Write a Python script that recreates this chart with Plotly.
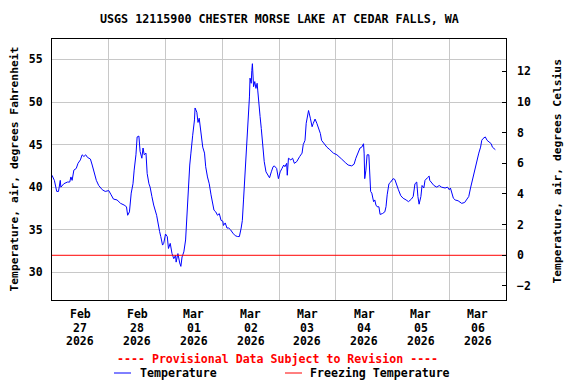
import plotly.graph_objects as go
import pandas as pd

# ---- data ----
start = pd.Timestamp("2026-02-27 00:00")
hours = [0.0, 1.0, 2.0, 2.75, 3.5, 3.75, 5.0, 6.5, 7.5, 8.0, 8.5, 9.25, 10.25, 11.0, 12.0, 12.75,
         13.5, 14.25, 15.0, 16.25, 17.0, 17.75, 18.75, 19.75, 21.25, 22.5, 24.0, 25.0, 26.0, 27.5,
         29.0, 30.5, 31.5, 32.0, 32.75, 33.5, 34.25, 34.75, 35.5, 36.0, 36.75, 37.25, 38.0, 38.5,
         39.0, 39.75, 40.25, 41.0, 41.5, 42.25, 43.0, 44.25, 44.75, 45.5, 46.0, 46.75, 47.25, 48.0,
         48.75, 49.25, 50.0, 50.75, 51.5, 52.25, 52.5, 53.25, 54.0, 54.5, 55.0, 55.75, 56.5, 56.75,
         57.0, 57.5, 57.75, 58.25, 58.75, 59.25, 59.5, 60.25, 60.5, 61.25, 61.75, 62.25, 62.75, 63.0,
         63.75, 64.5, 65.0, 65.75, 66.5, 67.25, 68.0, 68.5, 69.25, 70.0, 70.75, 71.5, 72.25, 72.5,
         73.25, 74.0, 74.75, 75.5, 76.5, 77.5, 78.5, 79.25, 80.0, 80.5, 81.0, 81.5, 81.75, 82.5,
         83.0, 83.5, 83.75, 84.25, 84.5, 84.75, 85.25, 85.75, 86.25, 86.75, 87.0, 87.5, 88.0, 88.5,
         89.0, 89.5, 89.75, 90.5, 91.25, 92.0, 92.75, 93.5, 94.0, 95.0, 95.75, 96.5, 97.25, 98.0,
         98.5, 99.25, 99.5, 100.0, 101.0, 101.75, 102.5, 103.5, 104.75,
         105.75, 106.25, 107.0, 107.5, 108.0, 108.5, 109.25, 110.0, 110.5, 111.25, 112.0, 112.75,
         113.5, 114.0, 115.0, 116.25, 117.5, 119.0, 120.5, 121.5, 122.5, 124.0, 125.25, 126.75,
         127.75, 128.5, 129.5, 130.25, 131.0, 131.75, 132.0, 132.25, 132.75, 133.25, 134.0, 134.25,
         134.75, 135.25, 136.0, 136.5, 137.0, 137.5, 138.25, 138.75, 139.75, 140.75, 141.25, 141.75,
         142.5, 143.25, 144.25, 145.0, 145.75, 146.5, 147.5, 148.5, 149.75, 150.75, 152.0, 152.75,
         153.5, 154.25, 154.75, 155.25, 156.0, 156.5, 157.25, 157.75, 158.75, 159.5, 159.75, 160.5,
         161.5, 162.75, 163.75, 164.75, 166.25, 167.25, 168.0, 168.5, 169.25, 169.75, 170.5, 171.75,
         173.25, 174.5, 175.25, 176.25, 177.0, 177.75, 178.75, 179.5, 180.5, 181.25, 181.75, 182.25,
         183.25, 184.0, 185.0, 185.75, 186.25, 186.75, 187.5]
temp_f = [41.4, 40.8, 39.5, 39.5, 40.8, 40.0, 40.4, 40.6, 40.6, 41.2, 40.8, 42.0, 42.2, 42.8, 43.2, 43.8,
          43.6, 43.8, 43.5, 43.3, 42.6, 41.8, 40.8, 40.2, 39.7, 39.5, 39.6, 39.1, 38.6, 38.5,
          38.1, 37.9, 37.7, 36.7, 37.1, 39.3, 40.4, 42.0, 43.8, 45.9, 46.0, 44.2, 43.4, 44.6,
          43.8, 44.0, 41.6, 40.4, 40.0, 38.9, 37.9, 36.7, 35.7, 34.8, 34.2, 33.2, 33.4, 34.5,
          34.2, 32.8, 33.4, 32.2, 31.6, 32.0, 31.2, 32.2, 31.1, 30.7, 31.8, 32.4, 33.8, 35.0,
          36.9, 38.9, 41.2, 42.6, 44.0, 45.9, 46.1, 47.9, 49.3, 48.8, 47.6, 48.1, 46.9, 45.9,
          44.7, 44.0, 42.4, 41.2, 40.4, 39.1, 37.9, 37.3, 37.1, 36.7, 36.9, 36.1, 36.0, 35.5,
          35.8, 35.2, 35.2, 35.0, 34.6, 34.3, 34.2, 34.2, 35.2, 36.1, 38.5, 40.8, 42.4, 44.7,
          48.3, 50.6, 52.8, 52.2, 53.7, 54.5, 51.8, 52.4, 51.6, 52.2, 51.4, 50.2, 48.3, 46.9,
          45.5, 44.4, 43.0, 41.8, 41.4, 41.1, 41.8, 42.4, 42.5, 42.2, 41.0, 41.8, 42.2, 42.6,
          42.4, 42.8, 41.4, 43.4, 43.2, 43.4, 42.8, 43.0, 43.6,
          44.0, 45.0, 45.5, 47.5, 48.5, 49.0, 48.1, 47.1, 47.5, 48.0, 47.5, 46.9,
          46.3, 45.5, 45.1, 44.7, 44.4, 44.0, 43.8, 43.5, 43.3, 42.9, 42.6, 42.5,
          42.7, 43.4, 44.0, 44.6, 44.7, 45.1, 44.0, 41.0, 42.0, 43.8, 43.8, 41.6,
          39.5, 39.3, 38.3, 38.5, 37.9, 37.7, 37.7, 36.8, 36.9, 37.1, 37.7, 39.1,
          40.4, 40.6, 41.0, 40.9, 40.4, 39.7, 39.0, 38.7, 38.5, 38.3, 38.6, 38.9,
          40.4, 40.6, 38.9, 38.0, 38.9, 40.2, 39.9, 40.8, 41.1, 41.3, 40.8, 40.5,
          40.2, 40.0, 40.2, 40.0, 39.9, 40.0, 39.7, 39.9, 39.3, 38.7, 38.5, 38.4,
          38.1, 38.2, 38.5, 38.9, 39.9, 40.8, 42.2, 42.8, 44.0, 44.7, 45.5, 45.7,
          45.9, 45.5, 45.3, 45.1, 44.7, 44.6, 44.4]

day_starts = ["2026-02-27", "2026-02-28", "2026-03-01", "2026-03-02", "2026-03-03",
              "2026-03-04", "2026-03-05", "2026-03-06", "2026-03-07"]
label_month = ["Feb", "Feb", "Mar", "Mar", "Mar", "Mar", "Mar", "Mar"]
label_day = ["27", "28", "01", "02", "03", "04", "05", "06"]
label_year = ["2026"] * 8
f_ticks = [30, 35, 40, 45, 50, 55]
c_ticks = [-2, 0, 2, 4, 6, 8, 10, 12]
freezing_c = 0
f_range = [26.75, 57.4]

# ---- figure ----
FONT = "DejaVu Sans Mono"
times = [start + pd.Timedelta(hours=h) for h in hours]
x0, x1 = pd.Timestamp(day_starts[0]), pd.Timestamp(day_starts[-1])
c_range = [(f_range[0] - 32) / 1.8, (f_range[1] - 32) / 1.8]

L, R, T, B = 52, 506, 39, 300
W, H = 576, 384
def px(x):
    return (x - L) / (R - L)
def py(y):
    return (B - y) / (B - T)

fig = go.Figure()
fig.add_trace(go.Scatter(x=times, y=temp_f, mode="lines", name="Temperature",
                         line=dict(color="#0000ff", width=1), yaxis="y", showlegend=False))
fig.add_trace(go.Scatter(x=[x0, x1], y=[freezing_c, freezing_c], mode="lines",
                         name="Freezing Temperature", line=dict(color="#ff0000", width=1),
                         yaxis="y2", showlegend=False))

ann = []
noons = [pd.Timestamp(d) + pd.Timedelta(hours=12) for d in day_starts[:-1]]
for i, t in enumerate(noons):
    for row, txt in zip((314, 327.5, 341), (label_month[i], label_day[i], label_year[i])):
        ann.append(dict(x=t, xref="x", y=py(row), yref="paper", text=txt, showarrow=False,
                        xanchor="center", yanchor="middle",
                        font=dict(family=FONT, size=11.5, color="black", weight="bold")))

ann.append(dict(x=px(279), xref="paper", y=py(19), yref="paper",
                text="USGS 12115900 CHESTER MORSE LAKE AT CEDAR FALLS, WA", showarrow=False,
                xanchor="center", yanchor="middle",
                font=dict(family=FONT, size=11.7, color="black", weight="bold")))
ann.append(dict(x=px(14), xref="paper", y=py(169.5), yref="paper",
                text="Temperature, air, degrees Fahrenheit", textangle=-90, showarrow=False,
                xanchor="center", yanchor="middle",
                font=dict(family=FONT, size=11.3, color="black", weight="bold")))
ann.append(dict(x=px(556.5), xref="paper", y=py(172), yref="paper",
                text="Temperature, air, degrees Celsius", textangle=-90, showarrow=False,
                xanchor="center", yanchor="middle",
                font=dict(family=FONT, size=11.3, color="black", weight="bold")))
ann.append(dict(x=px(277.5), xref="paper", y=py(358.5), yref="paper",
                text="---- Provisional Data Subject to Revision ----", showarrow=False,
                xanchor="center", yanchor="middle",
                font=dict(family=FONT, size=11.6, color="#ff0000", weight="bold")))
ann.append(dict(x=px(138), xref="paper", y=py(373), yref="paper", text="Temperature",
                showarrow=False, xanchor="left", yanchor="middle",
                font=dict(family=FONT, size=11.6, color="black", weight="bold")))
ann.append(dict(x=px(308), xref="paper", y=py(373), yref="paper", text="Freezing Temperature",
                showarrow=False, xanchor="left", yanchor="middle",
                font=dict(family=FONT, size=11.6, color="black", weight="bold")))

shapes = [
    dict(type="line", xref="paper", yref="paper", x0=px(114), x1=px(131), y0=py(373), y1=py(373),
         line=dict(color="#0000ff", width=1)),
    dict(type="line", xref="paper", yref="paper", x0=px(285), x1=px(302), y0=py(373), y1=py(373),
         line=dict(color="#ff0000", width=1)),
]

fig.update_layout(
    width=W, height=H, margin=dict(l=L, r=W - R, t=T, b=H - B, pad=0),
    paper_bgcolor="white", plot_bgcolor="white",
    font=dict(family=FONT, size=11.5, color="black", weight="bold"),
    annotations=ann, shapes=shapes, showlegend=False,
    xaxis=dict(range=[x0, x1], tickmode="array", tickvals=[pd.Timestamp(d) for d in day_starts],
               showticklabels=False, ticks="", showgrid=True, gridcolor="#c8c8c8", gridwidth=1,
               showline=True, linecolor="black", linewidth=1, mirror=True, zeroline=False),
    yaxis=dict(range=f_range, tickmode="array", tickvals=f_ticks, ticks="",
               showgrid=True, gridcolor="#c8c8c8", gridwidth=1, zeroline=False,
               showline=True, linecolor="black", linewidth=1, mirror=True,
               ticklabelstandoff=6,
               tickfont=dict(family=FONT, size=11.5, color="black", weight="bold")),
    yaxis2=dict(range=c_range, overlaying="y", side="right", tickmode="array", tickvals=c_ticks,
                ticks="inside", ticklen=4, tickcolor="black", showgrid=False, zeroline=False,
                showline=False, ticklabelstandoff=10,
                tickfont=dict(family=FONT, size=11.5, color="black", weight="bold")),
)

fig.write_html("out.html", config={"displayModeBar": False},
               post_script="document.body.style.margin='0';document.body.style.overflow='hidden';")
